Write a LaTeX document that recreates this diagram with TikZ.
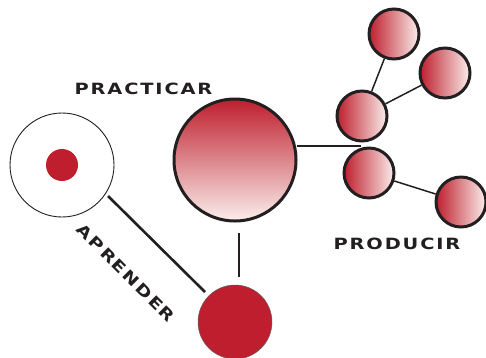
\documentclass[tikz,border=0pt]{standalone}
\usepackage{fontspec}
\newfontfamily\lblfont[LetterSpace=12,FakeStretch=1.25]{DejaVu Sans Bold}
\definecolor{myred}{HTML}{BE1E2D}
\definecolor{mylight}{HTML}{FBEEEC}
\definecolor{ink}{HTML}{231F20}
\begin{document}
\begin{tikzpicture}[x=1pt,y=-1pt,
  bigc/.style={circle,draw=ink,line width=3pt,inner sep=0pt,minimum size=#1},
  vgrad/.style={top color=myred,bottom color=mylight},
  hgrad/.style={left color=myred,right color=mylight},
  smallc/.style={bigc=50pt,hgrad},
  conn/.style={draw=ink,line width=1.5pt},
  lbl/.style={font=\lblfont\fontsize{15.5}{15.5}\selectfont,text=ink,inner sep=0pt}]
\useasboundingbox (0,0) rectangle (486,357);
% nodes
\node[circle,draw=ink,line width=0.9pt,minimum size=104pt,inner sep=0pt,fill=white] (learn) at (62,165) {};
\node[circle,fill=myred,minimum size=32pt,inner sep=0pt] (dot) at (62,165) {};
\node[bigc=122pt,vgrad] (prac) at (235,160) {};
\node[circle,fill=myred,draw=ink!70,line width=0.5pt,minimum size=74pt,inner sep=0pt] (red) at (235,322) {};
\node[smallc] (s1) at (394,34) {};
\node[smallc] (s2) at (445,73) {};
\node[smallc] (s3) at (362,116) {};
\node[smallc] (s4) at (369,173) {};
\node[smallc] (s5) at (461,202) {};
% connectors
\coordinate (hend) at (361,146);
\coordinate (vtop) at (239,233);
\coordinate (vbot) at (239,277);
\coordinate (lstart) at (108,196);
\coordinate (lend) at (205,292);
\draw[ink,line width=2pt] (prac.east |- hend) ++(-1,0) -- (hend);
\draw[ink,line width=2.2pt] (vtop) -- (vbot);
\draw[ink,line width=2.6pt] (lstart) -- (lend);
\draw[conn] (s1) -- (s3);
\draw[conn] (s2) -- (s3);
\draw[conn] (s4) -- (s5);
% labels
\node[lbl] (tprac) at (143.5,89) {PRACTICAR};
\node[lbl] (tprod) at (397,244) {PRODUCIR};
\node[lbl,rotate=-45] (tapr) at (126,273) {APRENDER};
\end{tikzpicture}
\end{document}
